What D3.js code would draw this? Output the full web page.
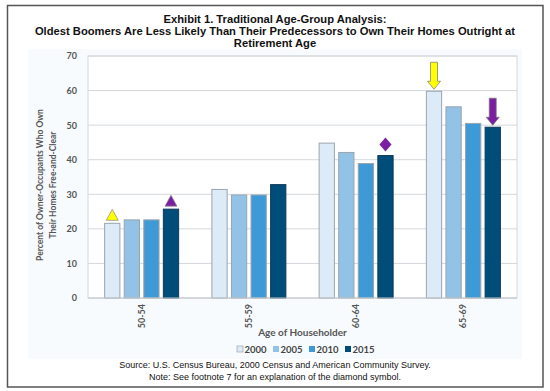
<!DOCTYPE html>
<html>
<head>
<meta charset="utf-8">
<script src="https://cdn.jsdelivr.net/npm/d3@7"></script>
<style>
  body { margin: 0; background: #fff; }
  svg { display: block; }
</style>
</head>
<body>
<script>
const width = 550;
const height = 391;

// data
const ageGroups = ['50-54', '55-59', '60-64', '65-69'];
const years = ['2000', '2005', '2010', '2015'];
const values2000 = [21.6, 31.4, 44.8, 59.8];
const values2005 = [22.6, 29.8, 42.1, 55.3];
const values2010 = [22.6, 29.8, 38.9, 50.5];
const values2015 = [25.7, 32.8, 41.2, 49.4];
const yTicks = [0, 10, 20, 30, 40, 50, 60, 70];
const colors = ['#ddeaf7', '#92c3e6', '#3e9ad6', '#004d7a'];

const series = [values2000, values2005, values2010, values2015];

const svg = d3.select('body')
    .append('svg')
    .attr('width', width)
    .attr('height', height);

// outer frame
svg.append('rect')
    .attr('x', 7.5).attr('y', 5.5)
    .attr('width', 535.5).attr('height', 381.5)
    .attr('fill', '#fff')
    .attr('stroke', '#555')
    .attr('stroke-width', 1.5);

// chart background
svg.append('rect')
    .attr('x', 28).attr('y', 49)
    .attr('width', 494).attr('height', 310)
    .attr('fill', '#f7fbfe');

// title
const title = [
    'Exhibit 1. Traditional Age-Group Analysis:',
    'Oldest Boomers Are Less Likely Than Their Predecessors to Own Their Homes Outright at',
    'Retirement Age'
];
svg.append('g')
    .selectAll('text')
    .data(title)
    .enter()
    .append('text')
    .attr('x', 275)
    .attr('y', (d, i) => 22.5 + i * 12.3)
    .attr('text-anchor', 'middle')
    .attr('font-family', 'Liberation Sans, Arial, sans-serif')
    .attr('font-weight', 'bold')
    .attr('font-size', 11.2)
    .attr('fill', '#111')
    .text(d => d);

const plot = { left: 88, right: 517, top: 56, bottom: 298 };

const x = d3.scaleBand()
    .domain(ageGroups)
    .range([plot.left, plot.right])
    .paddingInner(0.31)
    .paddingOuter(0.155);

const xs = d3.scaleBand()
    .domain(years)
    .range([0, x.bandwidth()])
    .paddingInner(0.22);

const y = d3.scaleLinear()
    .domain([0, 70])
    .range([plot.bottom, plot.top]);

// plot area
svg.append('rect')
    .attr('x', plot.left).attr('y', plot.top)
    .attr('width', plot.right - plot.left)
    .attr('height', plot.bottom - plot.top)
    .attr('fill', '#fff')
    .attr('stroke', '#d4d8dc');

// gridlines
svg.append('g')
    .selectAll('line')
    .data(yTicks)
    .enter()
    .append('line')
    .attr('x1', plot.left).attr('x2', plot.right)
    .attr('y1', d => y(d)).attr('y2', d => y(d))
    .attr('stroke', '#d4d8dc')
    .attr('stroke-width', 1);

// y axis labels
const yAxis = svg.append('g')
    .attr('transform', `translate(${plot.left - 11},0)`)
    .call(d3.axisLeft(y).tickValues(yTicks).tickSize(0).tickPadding(0));
yAxis.select('.domain').remove();
yAxis.selectAll('text')
    .attr('font-family', 'Lato, sans-serif')
    .attr('font-weight', 'bold')
    .attr('font-size', 9)
    .attr('fill', '#555');

// bars
const groups = svg.append('g')
    .selectAll('g')
    .data(ageGroups)
    .enter()
    .append('g')
    .attr('transform', d => `translate(${x(d)},0)`);

groups.selectAll('rect')
    .data((d, i) => years.map((yr, j) => ({ year: yr, value: series[j][i], k: j })))
    .enter()
    .append('rect')
    .attr('x', d => xs(d.year))
    .attr('y', d => y(d.value))
    .attr('width', xs.bandwidth())
    .attr('height', d => y(0) - y(d.value))
    .attr('fill', d => colors[d.k])
    .attr('stroke', d => d.k === 3 ? '#0d3a58' : '#9aa5ae')
    .attr('stroke-width', 1);

// x axis baseline
svg.append('line')
    .attr('x1', plot.left).attr('x2', plot.right)
    .attr('y1', plot.bottom).attr('y2', plot.bottom)
    .attr('stroke', '#c8ccd0');

// x axis labels (rotated)
svg.append('g')
    .selectAll('text')
    .data(ageGroups)
    .enter()
    .append('text')
    .attr('transform', d => `translate(${x(d) + x.bandwidth() / 2 + 3},${plot.bottom + 6}) rotate(-90)`)
    .attr('text-anchor', 'end')
    .attr('font-family', 'Lato, sans-serif')
    .attr('font-weight', 'bold')
    .attr('font-size', 9)
    .attr('fill', '#555')
    .text(d => d);

// axis titles
svg.append('text')
    .attr('x', (plot.left + plot.right) / 2)
    .attr('y', 336)
    .attr('text-anchor', 'middle')
    .attr('font-family', 'Lato, sans-serif')
    .attr('font-weight', 'bold')
    .attr('font-size', 10)
    .attr('fill', '#555')
    .text('Age of Householder');

svg.append('g')
    .attr('transform', `translate(43,185) rotate(-90)`)
    .selectAll('text')
    .data(['Percent of Owner-Occupants Who Own', 'Their Homes Free-and-Clear'])
    .enter()
    .append('text')
    .attr('x', 0)
    .attr('y', (d, i) => i * 12.5)
    .attr('text-anchor', 'middle')
    .attr('font-family', 'Lato, sans-serif')
    .attr('font-weight', 'bold')
    .attr('font-size', 8.5)
    .attr('fill', '#555')
    .text(d => d);

// legend
const legend = svg.append('g')
    .selectAll('g')
    .data(years)
    .enter()
    .append('g')
    .attr('transform', (d, i) => `translate(${237 + i * 36},349)`);
legend.append('rect')
    .attr('x', 0).attr('y', -3)
    .attr('width', 6).attr('height', 6)
    .attr('fill', (d, i) => colors[i])
    .attr('stroke', (d, i) => i === 0 ? '#9aa5ae' : 'none')
    .attr('stroke-width', 0.7);
legend.append('text')
    .attr('x', 7.5).attr('y', 3.5)
    .attr('font-family', 'Lato, sans-serif')
    .attr('font-weight', 'bold')
    .attr('font-size', 9.5)
    .attr('fill', '#444')
    .text(d => d);

// markers
const barX = (g, yr) => x(g) + xs(yr) + xs.bandwidth() / 2;
const yellow = '#ffff00';
const purple = '#7b1fa2';

const triangle = (g, yr, v, fill) => {
    const cx = barX(g, yr);
    const b = y(v) - 3;
    svg.append('path')
        .attr('d', `M${cx - 6},${b} L${cx + 6},${b} L${cx},${b - 11} Z`)
        .attr('fill', fill)
        .attr('stroke', '#888')
        .attr('stroke-width', 0.7);
};
triangle('50-54', '2000', values2000[0], yellow);
triangle('50-54', '2015', values2015[0], purple);

// diamond
{
    const cx = barX('60-64', '2015');
    const cy = y(values2015[2]) - 11;
    svg.append('path')
        .attr('d', `M${cx},${cy - 7} L${cx + 6},${cy} L${cx},${cy + 7} L${cx - 6},${cy} Z`)
        .attr('fill', purple);
}

const arrow = (g, yr, v, fill) => {
    const cx = barX(g, yr);
    const tip = y(v) - 2;
    const top = tip - 27;
    svg.append('path')
        .attr('d', `M${cx - 3.5},${top} L${cx + 3.5},${top} L${cx + 3.5},${tip - 8} L${cx + 6.5},${tip - 8} L${cx},${tip} L${cx - 6.5},${tip - 8} L${cx - 3.5},${tip - 8} Z`)
        .attr('fill', fill)
        .attr('stroke', '#777')
        .attr('stroke-width', 0.7);
};
arrow('65-69', '2000', values2000[3], yellow);
arrow('65-69', '2015', values2015[3], purple);

// source notes
svg.append('g')
    .selectAll('text')
    .data([
        'Source: U.S. Census Bureau, 2000 Census and American Community Survey.',
        'Note: See footnote 7 for an explanation of the diamond symbol.'
    ])
    .enter()
    .append('text')
    .attr('x', 275)
    .attr('y', (d, i) => 368 + i * 11.5)
    .attr('text-anchor', 'middle')
    .attr('font-family', 'Liberation Sans, Arial, sans-serif')
    .attr('font-size', 9)
    .attr('fill', '#111')
    .text(d => d);
</script>
</body>
</html>
